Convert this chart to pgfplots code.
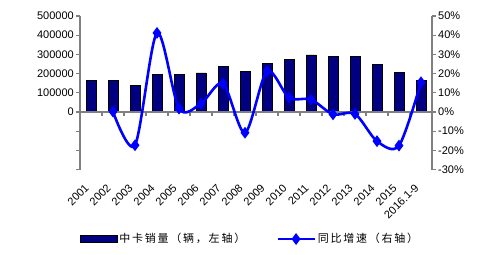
\documentclass[border=0pt]{standalone}
\usepackage{fontspec}
\setmainfont{Liberation Sans}
\newfontfamily\cjk[LetterSpace=16]{Noto Sans CJK SC}
\usepackage{pgfplots}
\pgfplotsset{compat=1.18}
\definecolor{navybar}{RGB}{0,0,128}
\definecolor{axgray}{RGB}{128,128,128}
\definecolor{lineblue}{RGB}{0,0,255}
\pgfplotsset{
  mylineleg/.style={legend image code/.code={\draw[mark repeat=2,mark phase=2,##1] plot coordinates {(0bp,0bp)(18.5bp,0bp)(37bp,0bp)};}},
  mybarleg/.style={legend image code/.code={\draw[fill=navybar,draw=black,line width=0.6bp] (0bp,-3.5bp) rectangle (37bp,3.5bp);}},
}
\begin{document}
\begin{tikzpicture}
\useasboundingbox (-80bp,-85.4bp) rectangle (398bp,169.6bp);
\begin{axis}[
  scale only axis,
  width=352bp, height=153.6bp,
  xmin=-0.5, xmax=15.5,
  ymin=-300000, ymax=500000,
  scaled y ticks=false,
  axis y line*=left,
  axis x line*=bottom,
  x axis line style={draw=none},
  y axis line style={draw=axgray, line width=1.3bp},
  xtick={0,...,15},
  xticklabels={2001,2002,2003,2004,2005,2006,2007,2008,2009,2010,2011,2012,2013,2014,2015,2016.1-9},
  xtick style={draw=none},
  xticklabel style={xshift=-7bp, yshift=-8bp, rotate=45, anchor=north east, inner sep=1bp, font=\fontsize{11bp}{13bp}\selectfont},
  ytick={-300000,-200000,-100000,0,100000,200000,300000,400000,500000},
  yticklabels={{},{},{},0,100000,200000,300000,400000,500000},
  ytick style={draw=axgray, line width=1.2bp},
  tick align=outside,
  major tick length=4bp,
  yticklabel style={font=\fontsize{11bp}{13bp}\selectfont, inner sep=2bp},
  clip=false,
]
\addplot[ybar, bar width=10bp, fill=navybar, draw=black, line width=0.6bp] coordinates {
(0,165000) (1,165000) (2,138000) (3,196000) (4,196000) (5,204000) (6,238000) (7,212000)
(8,255000) (9,276000) (10,297000) (11,290000) (12,290000) (13,248000) (14,205000) (15,163000)
};
\draw[axgray, line width=1.3bp] (axis cs:-0.5,0) -- (axis cs:15.5,0);
\pgfplotsinvokeforeach{0.5,1.5,2.5,3.5,4.5,5.5,6.5,7.5,8.5,9.5,10.5,11.5,12.5,13.5,14.5}{
  \draw[axgray, line width=1.2bp] (axis cs:#1,0) -- ([yshift=-4bp]axis cs:#1,0);
}
\end{axis}
\begin{axis}[
  scale only axis,
  width=352bp, height=153.6bp,
  xmin=-0.5, xmax=15.5,
  ymin=-30, ymax=50,
  axis y line*=right,
  axis x line=none,
  y axis line style={draw=axgray, line width=1.3bp},
  ytick={-30,-20,-10,0,10,20,30,40,50},
  yticklabels={-30\%,-20\%,-10\%,0\%,10\%,20\%,30\%,40\%,50\%},
  ytick style={draw=axgray, line width=1.2bp},
  tick align=outside,
  major tick length=4bp,
  yticklabel style={font=\fontsize{11bp}{13bp}\selectfont, inner sep=2bp},
  clip=false,
  legend columns=2,
  legend style={at={(0.483,-0.452)}, anchor=center, draw=none, fill=none,
    font=\cjk\fontsize{11bp}{13bp}\selectfont,
    /tikz/every even column/.append style={column sep=29bp},
    nodes={inner sep=2bp}},
]
\addlegendimage{mybarleg}
\addlegendentry{中卡销量（辆，左轴）}
\addplot[lineblue, line width=2.6bp, smooth, mark=diamond*, mark size=3.8bp, mylineleg]
coordinates {
(1,0.2) (2,-17.3) (3,41.2) (4,1.8) (5,4.4) (6,14.8) (7,-10.8) (8,21.2)
(9,7.5) (10,6.5) (11,-1.2) (12,-1.0) (13,-15.2) (14,-17.5) (15,15.5)
};
\addlegendentry{同比增速（右轴）}
\end{axis}
\end{tikzpicture}
\end{document}
